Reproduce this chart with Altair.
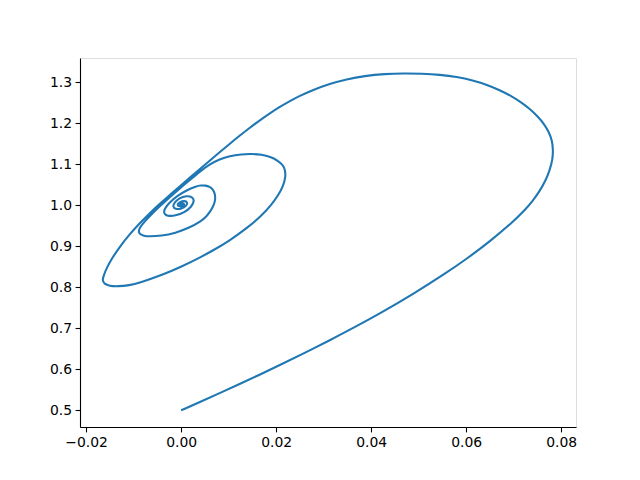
import altair as alt
import pandas as pd

# trajectory (x, y in data units)
xs = [0.0000, 0.0039, 0.0081, 0.0123, 0.0165, 0.0207, 0.0260, 0.0313, 0.0365, 0.0418,
      0.0488, 0.0559, 0.0601, 0.0650, 0.0698, 0.0722, 0.0741, 0.0755, 0.0768, 0.0776,
      0.0782, 0.0783, 0.0781, 0.0774, 0.0764, 0.0751, 0.0734, 0.0715, 0.0694, 0.0671,
      0.0644, 0.0614, 0.0580, 0.0545, 0.0507, 0.0467, 0.0429, 0.0386, 0.0348, 0.0313,
      0.0277, 0.0249, 0.0228, 0.0207, 0.0186, 0.0165, 0.0144, 0.0123, 0.0102, 0.0081,
      0.0060, 0.0039, 0.0018, -0.0004, -0.0025, -0.0046, -0.0067, -0.0088, -0.0109, -0.0128,
      -0.0145, -0.0157, -0.0163, -0.0166, -0.0162, -0.0151, -0.0134, -0.0109, -0.0088, -0.0039,
      0.0001, 0.0039, 0.0070, 0.0102, 0.0138, 0.0171, 0.0190, 0.0205, 0.0215, 0.0220,
      0.0219, 0.0214, 0.0203, 0.0188, 0.0169, 0.0148, 0.0127, 0.0102, 0.0081, 0.0060,
      0.0039, 0.0018, -0.0004, -0.0025, -0.0046, -0.0067, -0.0080, -0.0087, -0.0090, -0.0087,
      -0.0079, -0.0067, -0.0042, -0.0012, 0.0017, 0.0043, 0.0053, 0.0061, 0.0067, 0.0071,
      0.0072, 0.0071, 0.0067, 0.0060, 0.0051, 0.0041, 0.0032, 0.0013, -0.0008, -0.0025,
      -0.0035, -0.0037, -0.0029, -0.0012, 0.0007, 0.0022, 0.0028, 0.0024, 0.0011, -0.0004,
      -0.0014, -0.0018, -0.0012, 0.0001, 0.0011, 0.0014, 0.0007, -0.0004, -0.0009, -0.0004,
      0.0005, 0.0007, 0.0001, -0.0004, 0.0001, 0.0003, 0.0000]
ys = [0.5000, 0.5199, 0.5417, 0.5640, 0.5867, 0.6098, 0.6397, 0.6707, 0.7022, 0.7356,
      0.7829, 0.8354, 0.8690, 0.9116, 0.9586, 0.9857, 1.0114, 1.0345, 1.0618, 1.0858,
      1.1110, 1.1350, 1.1570, 1.1787, 1.1977, 1.2159, 1.2346, 1.2513, 1.2664, 1.2802,
      1.2932, 1.3040, 1.3125, 1.3178, 1.3205, 1.3212, 1.3198, 1.3148, 1.3068, 1.2958,
      1.2805, 1.2658, 1.2531, 1.2389, 1.2233, 1.2063, 1.1881, 1.1690, 1.1492, 1.1288,
      1.1081, 1.0873, 1.0665, 1.0447, 1.0237, 1.0021, 0.9794, 0.9550, 0.9281, 0.9005,
      0.8716, 0.8464, 0.8284, 0.8170, 0.8080, 0.8031, 0.8019, 0.8044, 0.8105, 0.8301,
      0.8501, 0.8718, 0.8913, 0.9137, 0.9432, 0.9762, 1.0005, 1.0250, 1.0470, 1.0690,
      1.0860, 1.0980, 1.1090, 1.1180, 1.1230, 1.1250, 1.1239, 1.1194, 1.1123, 1.0995,
      1.0815, 1.0610, 1.0395, 1.0183, 0.9962, 0.9720, 0.9560, 0.9450, 0.9360, 0.9290,
      0.9250, 0.9235, 0.9250, 0.9320, 0.9446, 0.9617, 0.9720, 0.9840, 0.9960, 1.0080,
      1.0180, 1.0280, 1.0380, 1.0450, 1.0480, 1.0480, 1.0460, 1.0373, 1.0227, 1.0060,
      0.9910, 0.9800, 0.9730, 0.9740, 0.9820, 0.9960, 1.0105, 1.0200, 1.0230, 1.0170,
      1.0070, 0.9960, 0.9900, 0.9910, 0.9980, 1.0070, 1.0110, 1.0070, 1.0010, 0.9960,
      0.9980, 1.0040, 1.0040, 1.0010, 0.9995, 1.0020, 1.0000]

x_ticks = [-0.02, 0.00, 0.02, 0.04, 0.06, 0.08]
y_ticks = [0.5, 0.6, 0.7, 0.8, 0.9, 1.0, 1.1, 1.2, 1.3]

df = pd.DataFrame({"i": list(range(len(xs))), "x": xs, "y": ys})

axis_common = dict(
    grid=False,
    domainColor="black",
    domainWidth=1.1,
    tickColor="black",
    tickWidth=1.1,
    tickSize=4.9,
    labelFont="DejaVu Sans",
    labelFontSize=13.9,
    labelColor="black",
    labelPadding=3.5,
    title=None,
)

chart = (
    alt.Chart(df)
    .mark_line(color="#1f77b4", strokeWidth=2.08, interpolate="basis")
    .encode(
        x=alt.X("x:Q",
                scale=alt.Scale(domain=[-0.02129, 0.08312], nice=False, zero=False),
                axis=alt.Axis(values=x_ticks, format=".2f", **axis_common)),
        y=alt.Y("y:Q",
                scale=alt.Scale(domain=[0.4593, 1.3585], nice=False, zero=False),
                axis=alt.Axis(values=y_ticks, format=".1f", **axis_common)),
        order=alt.Order("i:Q"),
    )
    .properties(
        width=496,
        height=369,
        autosize=alt.AutoSizeParams(type="none"),
        padding={"left": 72, "top": 50, "right": 56, "bottom": 45},
    )
    .configure_view(stroke="black", strokeWidth=1.1)
    .configure(background="white")
)

chart.save("out.html", embed_options={"renderer": "svg", "actions": False})
